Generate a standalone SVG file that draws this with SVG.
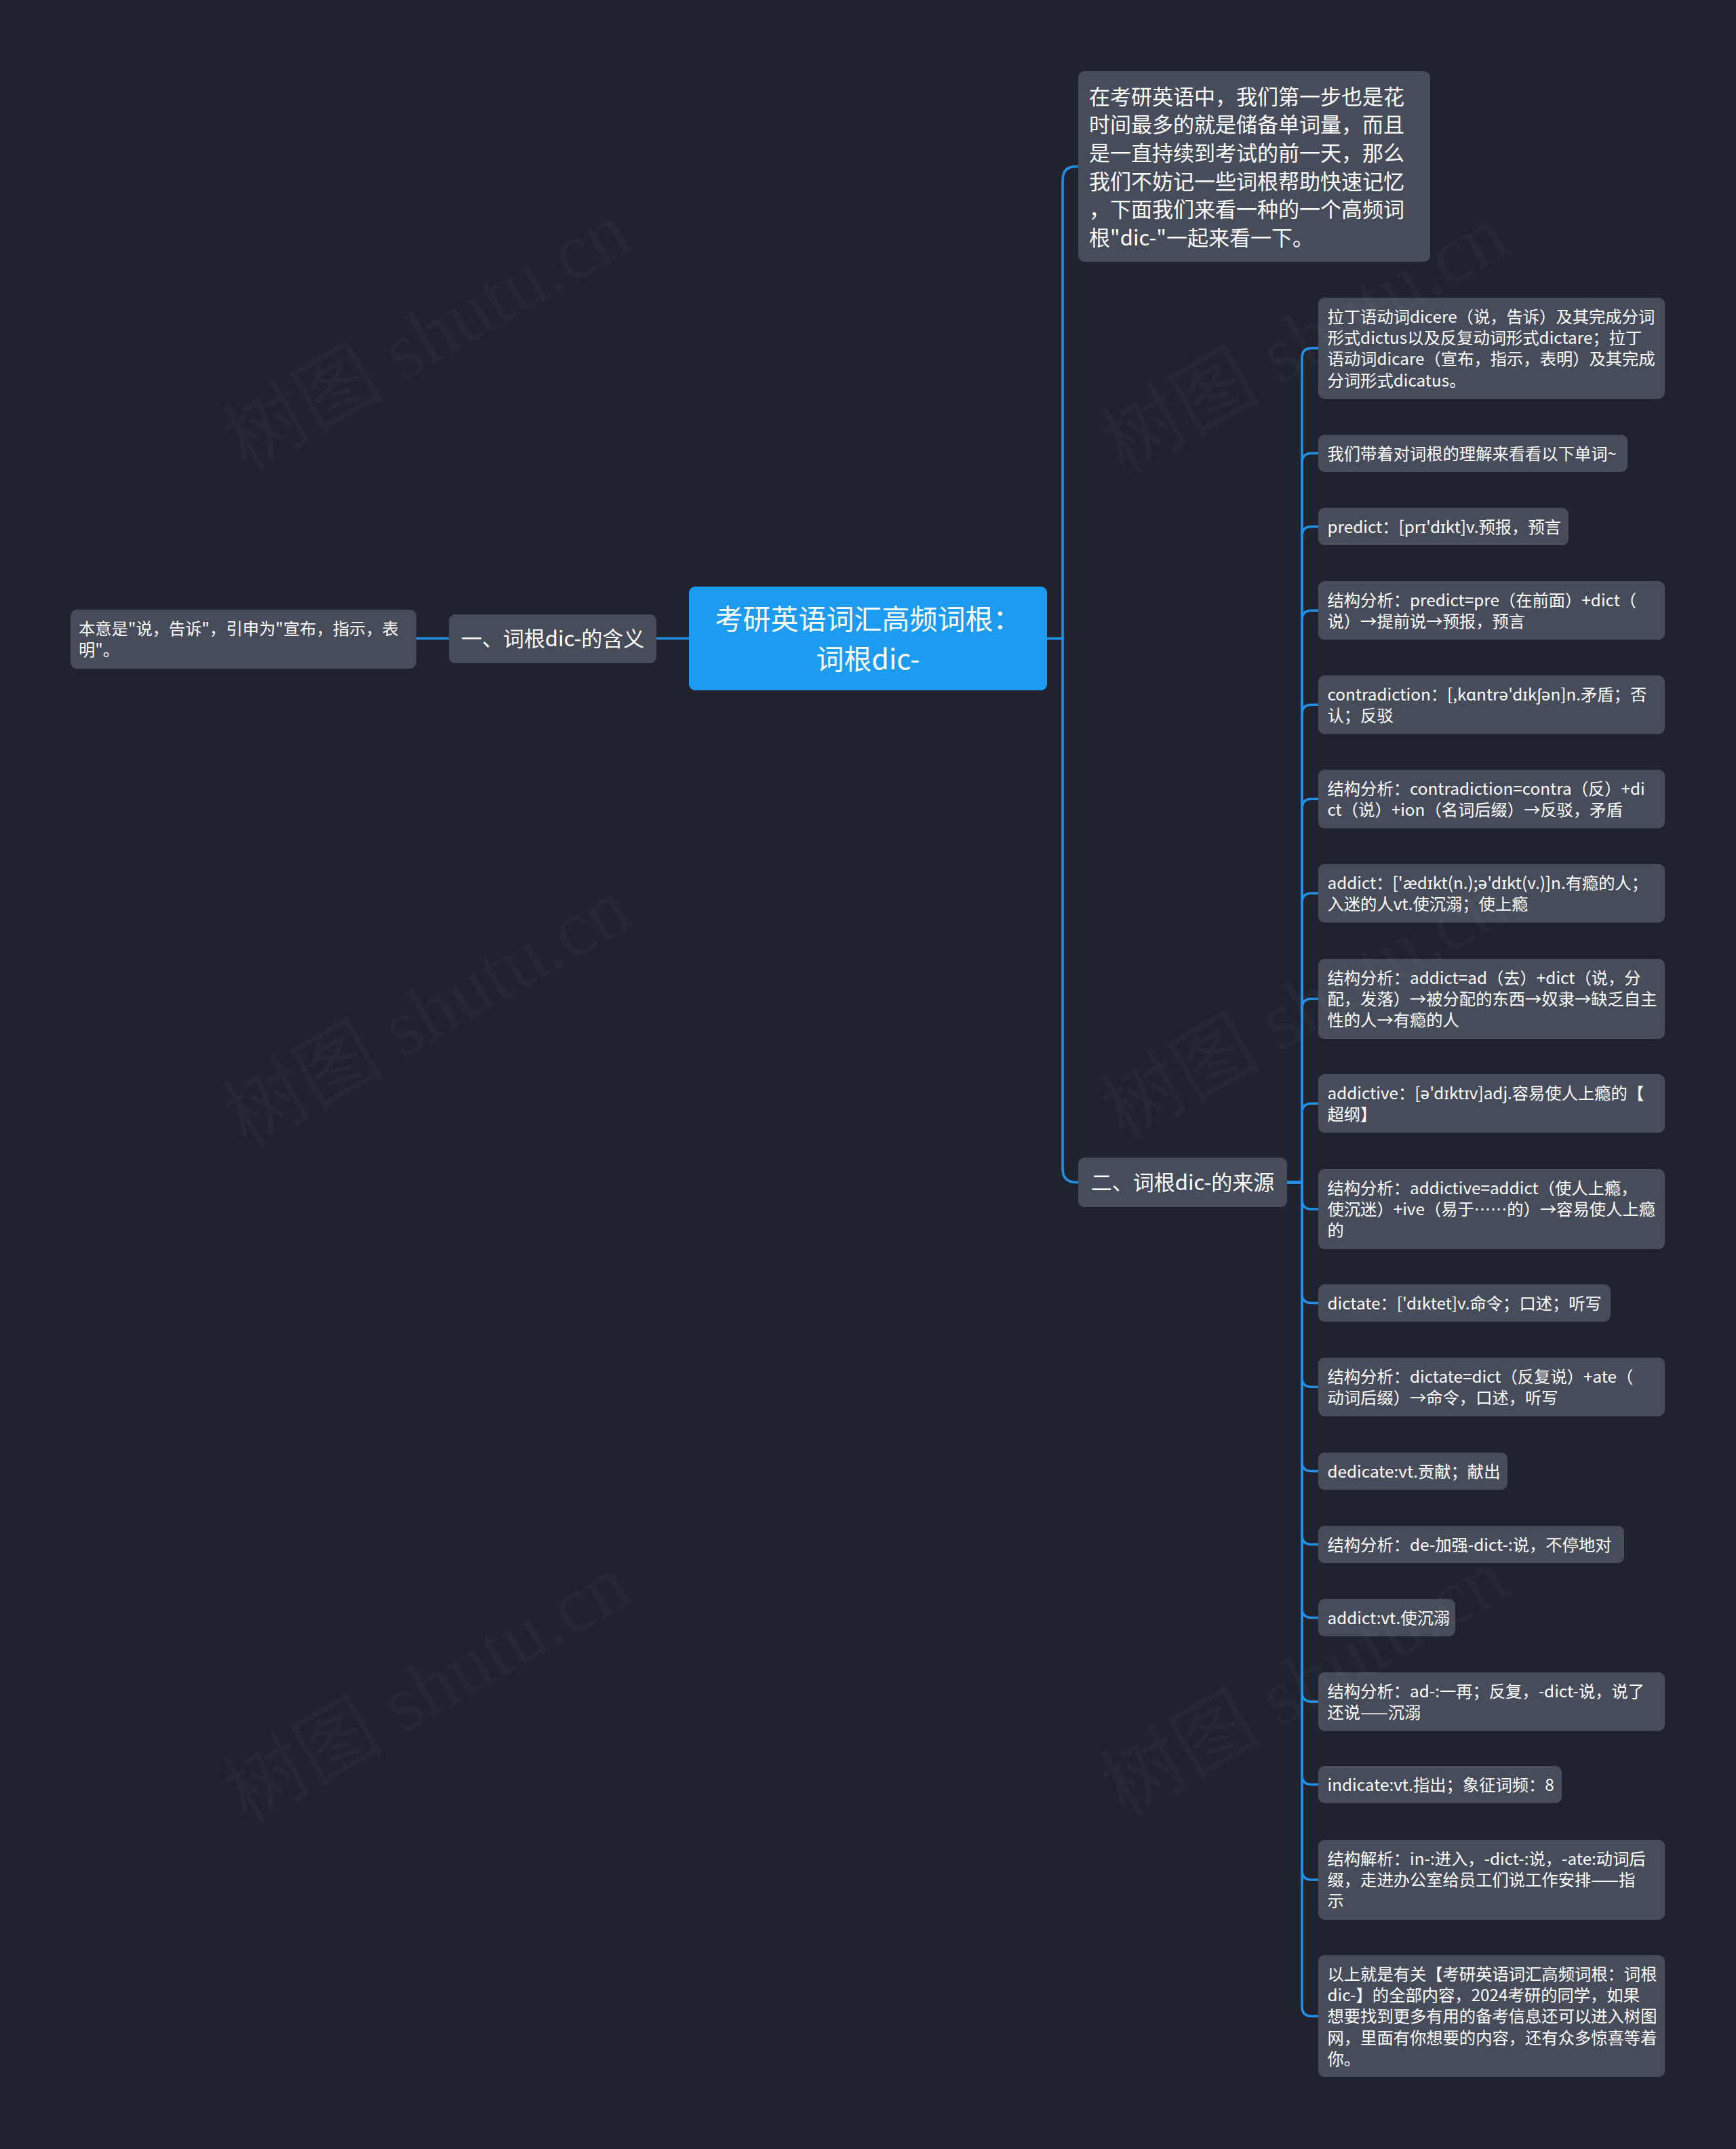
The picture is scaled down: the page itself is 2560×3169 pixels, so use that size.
<svg xmlns="http://www.w3.org/2000/svg" width="2560" height="3169" viewBox="0 0 2560 3169">
<style>
text{font-family:"Noto Sans CJK SC","Noto Sans",sans-serif;fill:#ffffff}
.bg{fill:#20232e}
.n{fill:#474c5b}
.root{fill:#1c9bf0}
.lf{font-size:24.3px}
.br{font-size:31px}
.tp{font-size:31px}
.rt{font-size:41px}
.c{fill:none;stroke:#2290e4;stroke-width:3.5;stroke-linecap:round}
.wm{font-family:"Liberation Serif","Noto Sans CJK SC",serif;font-size:118px;fill:#ffffff;fill-opacity:0.025}
</style>
<rect class="bg" x="0" y="0" width="2560" height="3169"/>

<g id="connectors">
<path class="c" d="M1016 941.5 H968"/>
<path class="c" d="M662 941.5 H614"/>
<path class="c" d="M1544 941.5 H1567 V265.5 Q1567 245.5 1587 245.5 H1590"/>
<path class="c" d="M1544 941.5 H1567 V1723.5 Q1567 1743.5 1587 1743.5 H1590"/>
<path class="c" d="M1898 1743.5 H1920 V527.5 Q1920 513.5 1934 513.5 H1944"/>
<path class="c" d="M1898 1743.5 H1920 V682.5 Q1920 668.5 1934 668.5 H1944"/>
<path class="c" d="M1898 1743.5 H1920 V790.5 Q1920 776.5 1934 776.5 H1944"/>
<path class="c" d="M1898 1743.5 H1920 V914.25 Q1920 900.25 1934 900.25 H1944"/>
<path class="c" d="M1898 1743.5 H1920 V1053.25 Q1920 1039.25 1934 1039.25 H1944"/>
<path class="c" d="M1898 1743.5 H1920 V1192.25 Q1920 1178.25 1934 1178.25 H1944"/>
<path class="c" d="M1898 1743.5 H1920 V1331.25 Q1920 1317.25 1934 1317.25 H1944"/>
<path class="c" d="M1898 1743.5 H1920 V1487 Q1920 1473 1934 1473 H1944"/>
<path class="c" d="M1898 1743.5 H1920 V1641.25 Q1920 1627.25 1934 1627.25 H1944"/>
<path class="c" d="M1898 1743.5 H1920 V1769 Q1920 1783 1934 1783 H1944"/>
<path class="c" d="M1898 1743.5 H1920 V1907.5 Q1920 1921.5 1934 1921.5 H1944"/>
<path class="c" d="M1898 1743.5 H1920 V2031.25 Q1920 2045.25 1934 2045.25 H1944"/>
<path class="c" d="M1898 1743.5 H1920 V2155.5 Q1920 2169.5 1934 2169.5 H1944"/>
<path class="c" d="M1898 1743.5 H1920 V2263.5 Q1920 2277.5 1934 2277.5 H1944"/>
<path class="c" d="M1898 1743.5 H1920 V2371.5 Q1920 2385.5 1934 2385.5 H1944"/>
<path class="c" d="M1898 1743.5 H1920 V2495.25 Q1920 2509.25 1934 2509.25 H1944"/>
<path class="c" d="M1898 1743.5 H1920 V2617.5 Q1920 2631.5 1934 2631.5 H1944"/>
<path class="c" d="M1898 1743.5 H1920 V2758 Q1920 2772 1934 2772 H1944"/>
<path class="c" d="M1898 1743.5 H1920 V2959 Q1920 2973 1934 2973 H1944"/>
</g>

<g id="root">
<rect class="root" x="1016" y="865" width="528" height="153" rx="9"/>
<text class="rt" x="1280" y="928" text-anchor="middle">考研英语词汇高频词根：</text>
<text class="rt" x="1280" y="987" text-anchor="middle">词根dic-</text>
</g>

<g id="branch1">
<rect class="n" x="662" y="906" width="306" height="72" rx="9"/>
<text class="br" x="815" y="953" text-anchor="middle">一、词根dic-的含义</text>
</g>

<g id="leaf-left">
<rect class="n" x="104" y="899" width="510" height="87" rx="9"/>
<text class="lf" x="116" y="936">本意是"说，告诉"，引申为"宣布，指示，表</text>
<text class="lf" x="116" y="967.3">明"。</text>
</g>

<g id="intro">
<rect class="n" x="1590" y="105" width="519" height="281" rx="9"/>
<text class="tp" x="1606" y="153.5">在考研英语中，我们第一步也是花</text>
<text class="tp" x="1606" y="195.2">时间最多的就是储备单词量，而且</text>
<text class="tp" x="1606" y="236.9">是一直持续到考试的前一天，那么</text>
<text class="tp" x="1606" y="278.6">我们不妨记一些词根帮助快速记忆</text>
<text class="tp" x="1606" y="320.3">，下面我们来看一种的一个高频词</text>
<text class="tp" x="1606" y="362">根"dic-"一起来看一下。</text>
</g>

<g id="branch2">
<rect class="n" x="1590" y="1707" width="308" height="73" rx="9"/>
<text class="br" x="1744" y="1755" text-anchor="middle">二、词根dic-的来源</text>
</g>

<g id="l1">
<rect class="n" x="1944" y="439" width="511" height="149" rx="9"/>
<text class="lf" x="1957.5" y="475.8">拉丁语动词dicere（说，告诉）及其完成分词</text>
<text class="lf" x="1957.5" y="507.1">形式dictus以及反复动词形式dictare；拉丁</text>
<text class="lf" x="1957.5" y="538.4">语动词dicare（宣布，指示，表明）及其完成</text>
<text class="lf" x="1957.5" y="569.7">分词形式dicatus。</text>
</g>
<g id="l2">
<rect class="n" x="1944" y="641" width="456" height="55" rx="9"/>
<text class="lf" x="1957.5" y="677.8">我们带着对词根的理解来看看以下单词~</text>
</g>
<g id="l3">
<rect class="n" x="1944" y="749" width="369" height="55" rx="9"/>
<text class="lf" x="1957.5" y="785.8">predict：[prɪ'dɪkt]v.预报，预言</text>
</g>
<g id="l4">
<rect class="n" x="1944" y="857" width="511" height="86.5" rx="9"/>
<text class="lf" x="1957.5" y="893.8">结构分析：predict=pre（在前面）+dict（</text>
<text class="lf" x="1957.5" y="925.1">说）→提前说→预报，预言</text>
</g>
<g id="l5">
<rect class="n" x="1944" y="996" width="511" height="86.5" rx="9"/>
<text class="lf" x="1957.5" y="1032.8">contradiction：[,kɑntrə'dɪkʃən]n.矛盾；否</text>
<text class="lf" x="1957.5" y="1064.1">认；反驳</text>
</g>
<g id="l6">
<rect class="n" x="1944" y="1135" width="511" height="86.5" rx="9"/>
<text class="lf" x="1957.5" y="1171.8">结构分析：contradiction=contra（反）+di</text>
<text class="lf" x="1957.5" y="1203.1">ct（说）+ion（名词后缀）→反驳，矛盾</text>
</g>
<g id="l7">
<rect class="n" x="1944" y="1274" width="511" height="86.5" rx="9"/>
<text class="lf" x="1957.5" y="1310.8">addict：['ædɪkt(n.);ə'dɪkt(v.)]n.有瘾的人；</text>
<text class="lf" x="1957.5" y="1342.1">入迷的人vt.使沉溺；使上瘾</text>
</g>
<g id="l8">
<rect class="n" x="1944" y="1414" width="511" height="118" rx="9"/>
<text class="lf" x="1957.5" y="1450.8">结构分析：addict=ad（去）+dict（说，分</text>
<text class="lf" x="1957.5" y="1482.1">配，发落）→被分配的东西→奴隶→缺乏自主</text>
<text class="lf" x="1957.5" y="1513.4">性的人→有瘾的人</text>
</g>
<g id="l9">
<rect class="n" x="1944" y="1584" width="511" height="86.5" rx="9"/>
<text class="lf" x="1957.5" y="1620.8">addictive：[ə'dɪktɪv]adj.容易使人上瘾的【</text>
<text class="lf" x="1957.5" y="1652.1">超纲】</text>
</g>
<g id="l10">
<rect class="n" x="1944" y="1724" width="511" height="118" rx="9"/>
<text class="lf" x="1957.5" y="1760.8">结构分析：addictive=addict（使人上瘾，</text>
<text class="lf" x="1957.5" y="1792.1">使沉迷）+ive（易于……的）→容易使人上瘾</text>
<text class="lf" x="1957.5" y="1823.4">的</text>
</g>
<g id="l11">
<rect class="n" x="1944" y="1894" width="431" height="55" rx="9"/>
<text class="lf" x="1957.5" y="1930.8">dictate：['dɪktet]v.命令；口述；听写</text>
</g>
<g id="l12">
<rect class="n" x="1944" y="2002" width="511" height="86.5" rx="9"/>
<text class="lf" x="1957.5" y="2038.8">结构分析：dictate=dict（反复说）+ate（</text>
<text class="lf" x="1957.5" y="2070.1">动词后缀）→命令，口述，听写</text>
</g>
<g id="l13">
<rect class="n" x="1944" y="2142" width="279" height="55" rx="9"/>
<text class="lf" x="1957.5" y="2178.8">dedicate:vt.贡献；献出</text>
</g>
<g id="l14">
<rect class="n" x="1944" y="2250" width="451" height="55" rx="9"/>
<text class="lf" x="1957.5" y="2286.8">结构分析：de-加强-dict-:说，不停地对</text>
</g>
<g id="l15">
<rect class="n" x="1944" y="2358" width="202" height="55" rx="9"/>
<text class="lf" x="1957.5" y="2394.8">addict:vt.使沉溺</text>
</g>
<g id="l16">
<rect class="n" x="1944" y="2466" width="511" height="86.5" rx="9"/>
<text class="lf" x="1957.5" y="2502.8">结构分析：ad-:一再；反复，-dict-说，说了</text>
<text class="lf" x="1957.5" y="2534.1">还说——沉溺</text>
</g>
<g id="l17">
<rect class="n" x="1944" y="2604" width="359" height="55" rx="9"/>
<text class="lf" x="1957.5" y="2640.8">indicate:vt.指出；象征词频：8</text>
</g>
<g id="l18">
<rect class="n" x="1944" y="2713" width="511" height="118" rx="9"/>
<text class="lf" x="1957.5" y="2749.8">结构解析：in-:进入，-dict-:说，-ate:动词后</text>
<text class="lf" x="1957.5" y="2781.1">缀，走进办公室给员工们说工作安排——指</text>
<text class="lf" x="1957.5" y="2812.4">示</text>
</g>
<g id="l19">
<rect class="n" x="1944" y="2883" width="511" height="180" rx="9"/>
<text class="lf" x="1957.5" y="2919.8">以上就是有关【考研英语词汇高频词根：词根</text>
<text class="lf" x="1957.5" y="2951.1">dic-】的全部内容，2024考研的同学，如果</text>
<text class="lf" x="1957.5" y="2982.4">想要找到更多有用的备考信息还可以进入树图</text>
<text class="lf" x="1957.5" y="3013.7">网，里面有你想要的内容，还有众多惊喜等着</text>
<text class="lf" x="1957.5" y="3045">你。</text>
</g>

<g id="watermarks">
<text class="wm" x="0" y="0" text-anchor="middle" transform="translate(650 530) rotate(-30)">树图 shutu.cn</text>
<text class="wm" x="0" y="0" text-anchor="middle" transform="translate(650 1528) rotate(-30)">树图 shutu.cn</text>
<text class="wm" x="0" y="0" text-anchor="middle" transform="translate(650 2525) rotate(-30)">树图 shutu.cn</text>
<text class="wm" x="0" y="0" text-anchor="middle" transform="translate(1944 535) rotate(-30)">树图 shutu.cn</text>
<text class="wm" x="0" y="0" text-anchor="middle" transform="translate(1944 1518) rotate(-30)">树图 shutu.cn</text>
<text class="wm" x="0" y="0" text-anchor="middle" transform="translate(1944 2515) rotate(-30)">树图 shutu.cn</text>
</g>
</svg>
